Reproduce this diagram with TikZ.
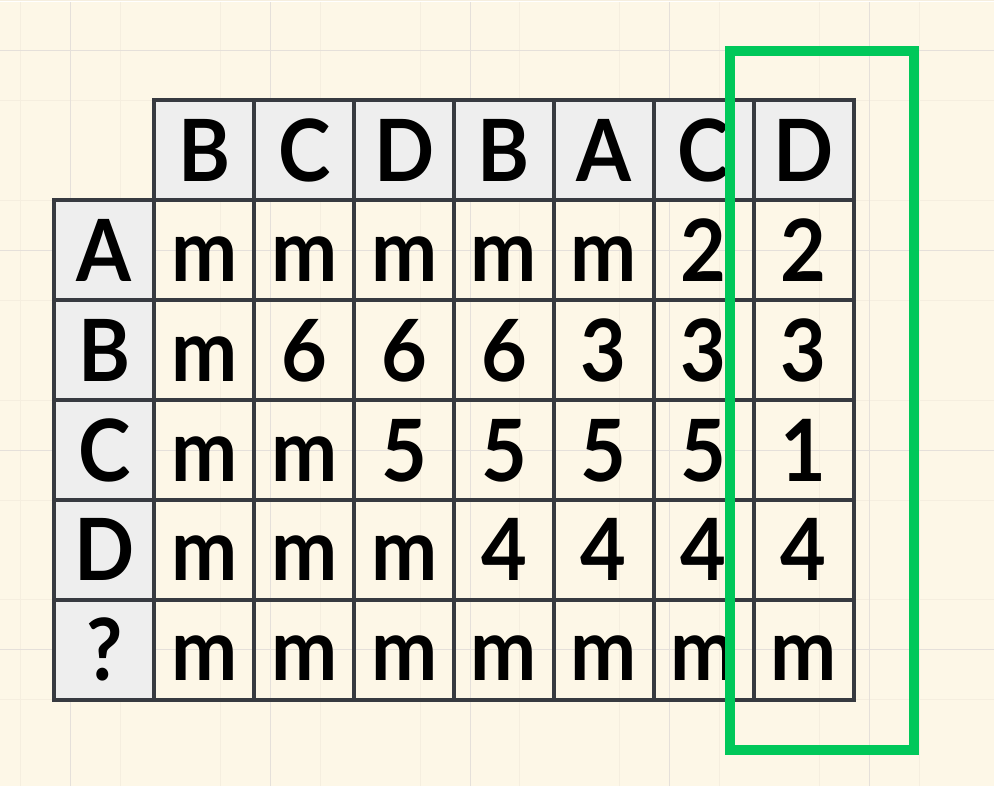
\documentclass[tikz,border=0pt]{standalone}
\usepackage{fontspec}
\setmainfont{Lato}[FakeStretch=0.92]
\definecolor{paper}{RGB}{253,247,231}
\definecolor{gridminor}{RGB}{245,238,223}
\definecolor{gridmajor}{RGB}{229,224,218}
\definecolor{ink}{RGB}{55,58,64}
\definecolor{headgray}{RGB}{238,238,238}
\definecolor{mark}{RGB}{0,200,90}
\begin{document}
\begin{tikzpicture}[x=1pt, y=-1pt,
    cell/.style={draw=ink, line width=4pt, minimum size=100pt, inner sep=0pt,
      text height=62pt, text depth=0pt, font=\fontsize{86}{90}\selectfont\bfseries},
    head/.style={cell, fill=headgray},
    highlight/.style={draw=mark, line width=10pt, minimum width=184pt, minimum height=699pt, inner sep=0pt}]
        % paper and grid
        \fill[paper] (0,0) rectangle (994,784);
        \foreach \x in {20,120,...,970} \draw[gridminor, line width=1pt] (\x,0) -- (\x,784);
        \foreach \y in {-2,98,...,784} \draw[gridminor, line width=1pt] (0,\y) -- (994,\y);
        \foreach \x in {70,270,...,970} \draw[gridmajor, line width=1pt] (\x,0) -- (\x,784);
        \foreach \y in {48,248,...,784} \draw[gridmajor, line width=1pt] (0,\y) -- (994,\y);

        % header row
        \node[head] (top1) at (204,148) {B};
        \node[head] (top2) at (304,148) {C};
        \node[head] (top3) at (404,148) {D};
        \node[head] (top4) at (504,148) {B};
        \node[head] (top5) at (604,148) {A};
        \node[head] (top6) at (704,148) {C};
        \node[head] (top7) at (804,148) {D};

        % header column
        \node[head] (rowA) at (104,248) {A};
        \node[head] (rowB) at (104,348) {B};
        \node[head] (rowC) at (104,448) {C};
        \node[head] (rowD) at (104,548) {D};
        \node[head] (rowQ) at (104,648) {?};

        % row A
        \node[cell] (a1) at (204,248) {m};
        \node[cell] (a2) at (304,248) {m};
        \node[cell] (a3) at (404,248) {m};
        \node[cell] (a4) at (504,248) {m};
        \node[cell] (a5) at (604,248) {m};
        \node[cell] (a6) at (704,248) {2};
        \node[cell] (a7) at (804,248) {2};

        % row B
        \node[cell] (b1) at (204,348) {m};
        \node[cell] (b2) at (304,348) {6};
        \node[cell] (b3) at (404,348) {6};
        \node[cell] (b4) at (504,348) {6};
        \node[cell] (b5) at (604,348) {3};
        \node[cell] (b6) at (704,348) {3};
        \node[cell] (b7) at (804,348) {3};

        % row C
        \node[cell] (c1) at (204,448) {m};
        \node[cell] (c2) at (304,448) {m};
        \node[cell] (c3) at (404,448) {5};
        \node[cell] (c4) at (504,448) {5};
        \node[cell] (c5) at (604,448) {5};
        \node[cell] (c6) at (704,448) {5};
        \node[cell] (c7) at (804,448) {1};

        % row D
        \node[cell] (d1) at (204,548) {m};
        \node[cell] (d2) at (304,548) {m};
        \node[cell] (d3) at (404,548) {m};
        \node[cell] (d4) at (504,548) {4};
        \node[cell] (d5) at (604,548) {4};
        \node[cell] (d6) at (704,548) {4};
        \node[cell] (d7) at (804,548) {4};

        % row ?
        \node[cell] (q1) at (204,648) {m};
        \node[cell] (q2) at (304,648) {m};
        \node[cell] (q3) at (404,648) {m};
        \node[cell] (q4) at (504,648) {m};
        \node[cell] (q5) at (604,648) {m};
        \node[cell] (q6) at (704,648) {m};
        \node[cell] (q7) at (804,648) {m};

        % current column
        \node[highlight] (focus) at (822,398.5) {};
      \end{tikzpicture}
\end{document}
